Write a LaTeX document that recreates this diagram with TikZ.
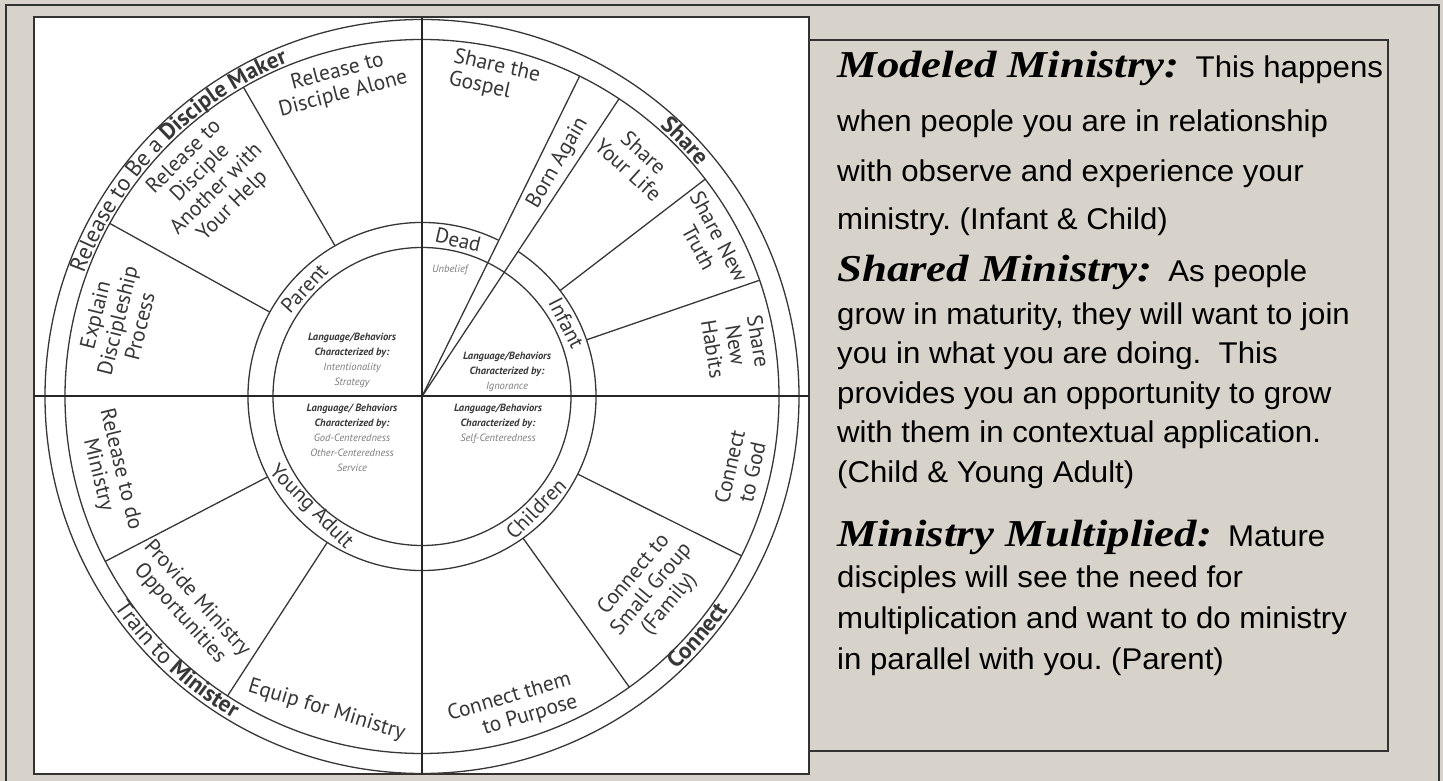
\documentclass[tikz,border=0pt]{standalone}
\usepackage{fontspec}
\setmainfont{Liberation Sans}
\newfontfamily\wheelfont{PT Sans}
\newfontfamily\headfont[FakeStretch=1.18]{Liberation Serif}
\newfontfamily\bodyfont[FakeStretch=1.04]{Liberation Sans}
\usetikzlibrary{decorations.text}
\definecolor{bg}{RGB}{216,211,202}
\definecolor{ink}{RGB}{55,55,55}
\definecolor{soft}{RGB}{125,125,125}
\newcommand\wf{\wheelfont\fontsize{21.5}{23}\selectfont}
\newcommand\bandfont{\wheelfont\fontsize{23}{25}\selectfont}
\newcommand\hd[1]{{\headfont\bfseries\itshape\fontsize{38}{40}\selectfont #1}}
\frenchspacing
\begin{document}
\begin{tikzpicture}[x=1pt,y=1pt,
  frameline/.style={draw=black!80, line width=2pt},
  wline/.style={draw=ink, line width=1.3pt},
  axisline/.style={draw=black!85, line width=2pt},
  cell/.style={text=ink, font=\wf, align=center, inner sep=0pt},
  ringtxt/.style={text=ink, font=\wheelfont\fontsize{21}{23}\selectfont, inner sep=0pt},
  lbh/.style={font=\wheelfont\bfseries\itshape\fontsize{10.5}{15}\selectfont, text=ink, align=center, inner sep=0pt},
  soft/.style={font=\wheelfont\itshape\fontsize{10.5}{15}\selectfont, text=soft, inner sep=0pt},
  body/.style={font=\bodyfont\fontsize{30}{36}\selectfont, text=black, anchor=base west, inner sep=0pt},
  bandtxt/.style={decorate, decoration={text along path, text align=center, text color=ink}},
]
\useasboundingbox (0,0) rectangle (1443,781);
\fill[bg] (0,0) rectangle (1443,781);
% outer frame
\draw[frameline] (6,-10) -- (6,776) -- (1439,776) -- (1439,-10);
% text box
\draw[frameline, fill=bg] (809,30) rectangle (1388,741);
% white box
\draw[frameline, fill=white] (34,7) rectangle (809,764);

% wheel
\begin{scope}[shift={(422,384.5)}]
  \draw[wline] (0,0) circle[radius=377];
  \draw[wline] (0,0) circle[radius=357];
  \draw[wline] (0,0) circle[radius=149];
  \draw[wline] (64:174) arc[start angle=64, end angle=416.5, radius=174];
  \foreach \a in {120,151,37.5,19,-26.5,-54.5,207.5,237}
    \draw[wline] (\a:174) -- (\a:357);
  \draw[wline] (0,0) -- (63.8:357);
  \draw[wline] (0,0) -- (56.5:357);

  % outer band texts
  \path[bandtxt, decoration={text={|\bandfont|Release to Be a |\bandfont\bfseries|Disciple Maker}}]
    (172:359.5) arc[start angle=172, end angle=100, radius=359.5];
  \path[bandtxt, decoration={text={|\bandfont\bfseries|Share}}]
    (62:359.5) arc[start angle=62, end angle=26.4, radius=359.5];
  \path[bandtxt, decoration={text={|\bandfont\bfseries|Connect}}]
    (-60:373) arc[start angle=-60, end angle=-22, radius=373];
  \path[bandtxt, decoration={text={|\bandfont|Train to |\bandfont\bfseries|Minister}}]
    (203:373) arc[start angle=203, end angle=251, radius=373];

  % ring texts
  \node[ringtxt, rotate=47.4] (parent) at (137.4:160) {Parent};
  \node[ringtxt, rotate=-13] (dead) at (77:160.6) {Dead};
  \node[ringtxt, rotate=-63.1] (infant) at (26.9:162) {Infant};
  \node[ringtxt, rotate=45.4] (children) at (-44.6:160) {Children};
  \node[ringtxt, rotate=-45.1] (youngadult) at (224.9:157) {Young Adult};

  % cell texts
  \node[cell, rotate=14.6] (c1) at (104.6:324) {Release to\\Disciple Alone};
  \node[cell, rotate=44.8] (c2) at (134.8:303) {Release to\\Disciple\\Another with\\Your Help};
  \node[cell, rotate=76] (c3) at (166:314) {Explain\\Discipleship\\Process};
  \node[cell, align=left, rotate=-12.8] (c4) at (77.2:327) {Share the\\Gospel};
  \node[cell, rotate=59.8] (c5) at (59.8:270) {Born Again};
  \node[cell, rotate=-42.3] (c6) at (47.7:318) {Share\\Your Life};
  \node[cell, rotate=-61.7] (c7) at (28.3:326) {Share New\\Truth};
  \node[cell, rotate=-80.7] (c8) at (9.3:318) {Share\\New\\Habits};
  \node[cell, rotate=77.1] (c9) at (-12.9:327) {Connect\\to God};
  \node[cell, rotate=50] (c10) at (-40:300) {Connect to\\Small Group\\(Family)};
  \node[cell, align=right, rotate=16.2] (c11) at (-73.8:325) {Connect them\\to Purpose};
  \node[cell, rotate=-76.4] (c12) at (193.6:322) {Release to do\\Ministry};
  \node[cell, rotate=-48.1] (c13) at (221.9:314) {Provide Ministry\\Opportunities};
  \node[cell, rotate=-16.9] (c14) at (253.1:328) {Equip for Ministry};

  % centre texts
  \node[lbh] (ul) at (-70,36.5) {Language/Behaviors\\Characterized by:\\{\mdseries\color{soft}Intentionality}\\{\mdseries\color{soft}Strategy}};
  \node[soft] (unbelief) at (28,126.5) {Unbelief};
  \node[lbh] (ur) at (85,24.5) {Language/Behaviors\\Characterized by:\\{\mdseries\color{soft}Ignorance}};
  \node[lbh] (ll) at (-70,-41.5) {Language/ Behaviors\\Characterized by:\\{\mdseries\color{soft}God-Centeredness}\\{\mdseries\color{soft}Other-Centeredness}\\{\mdseries\color{soft}Service}};
  \node[lbh] (lr) at (76,-27) {Language/Behaviors\\Characterized by:\\{\mdseries\color{soft}Self-Centeredness}};
\end{scope}
% axes
\draw[axisline] (422,7) -- (422,764);
\draw[axisline] (34,384.5) -- (809,384.5);

% right text
\node[body] (t1) at (837,703) {\hd{Modeled Ministry:}\hspace{16pt}This happens};
\node[body] (t2) at (837,649) {when people you are in relationship};
\node[body] (t3) at (837,599) {with observe and experience your};
\node[body] (t4) at (837,551) {ministry. (Infant \& Child)};
\node[body] (t5) at (837,499) {\hd{Shared Ministry:}\hspace{16pt}As people};
\node[body] (t6) at (837,456) {grow in maturity, they will want to join};
\node[body] (t7) at (837,417) {you in what you are doing.\ \ This};
\node[body] (t8) at (837,377) {provides you an opportunity to grow};
\node[body] (t9) at (837,338) {with them in contextual application.};
\node[body] (t10) at (837,298) {(Child \& Young Adult)};
\node[body] (t11) at (837,234) {\hd{Ministry Multiplied:}\hspace{16pt}Mature};
\node[body] (t12) at (837,193) {disciples will see the need for};
\node[body] (t13) at (837,152) {multiplication and want to do ministry};
\node[body] (t14) at (837,111) {in parallel with you. (Parent)};
\end{tikzpicture}
\end{document}
